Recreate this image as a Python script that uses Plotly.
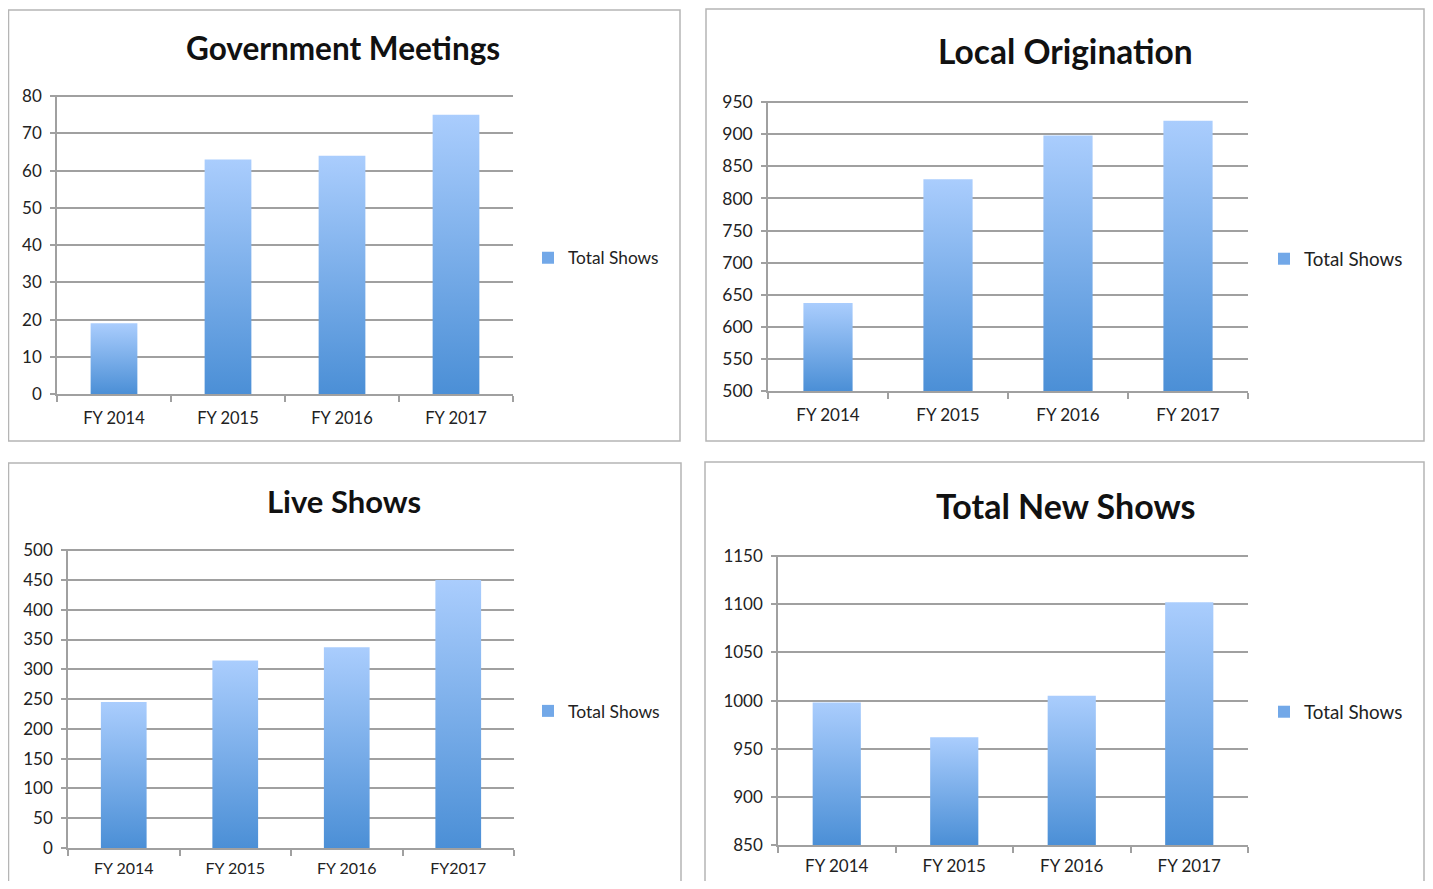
import plotly.graph_objects as go

categories_a = ["FY 2014", "FY 2015", "FY 2016", "FY 2017"]
categories_live = ["FY 2014", "FY 2015", "FY 2016", "FY2017"]

gov_meetings = [19, 63, 64, 75]
local_origination = [637, 830, 898, 921]
live_shows = [245, 315, 337, 450]
total_new_shows = [998, 962, 1005, 1102]

titles = ["Government Meetings", "Local Origination", "Live Shows", "Total New Shows"]
series_name = "Total Shows"

OFF = 8  # page body margin
W, H = 1433 - 2 * OFF, 889 - 2 * OFF
FONT = "Lato"
TOP_C = "#aacdfd"
BOT_C = "#4b8fd6"
GRID = "#a0a0a0"


def fx(px):
    return (px - OFF) / W


def fy(py):
    return 1 - (py - OFF) / H


panels = [
    dict(vals=gov_meetings, cats=categories_a, title=titles[0], yr=(0, 80), dt=10,
         px=(57, 513), py=(95, 394), tc=(343, 48), box=(8.5, 10, 680, 441), leg=(528, 258),
         ts=31.5, xs=16.5, ys=17, ls=17.3, so=8),
    dict(vals=local_origination, cats=categories_a, title=titles[1], yr=(500, 950), dt=50,
         px=(768, 1248), py=(101, 391), tc=(1065, 51), box=(706, 9, 1424, 441), leg=(1264, 259),
         ts=33.5, xs=17, ys=17.5, ls=18.8, so=8),
    dict(vals=live_shows, cats=categories_live, title=titles[2], yr=(0, 500), dt=50,
         px=(68, 514), py=(549, 848), tc=(344, 501), box=(8.5, 463, 681, 910), leg=(528, 711),
         ts=31, xs=16, ys=17, ls=17.5, so=5),
    dict(vals=total_new_shows, cats=categories_a, title=titles[3], yr=(850, 1150), dt=50,
         px=(778, 1248), py=(555, 845), tc=(1065, 505), box=(705, 462, 1424, 910), leg=(1264, 712),
         ts=34, xs=17, ys=17, ls=18.8, so=5),
]

fig = go.Figure()
bw = 0.41
layout = dict(template="none", width=W, height=H, margin=dict(l=0, r=0, t=0, b=0, autoexpand=False),
              paper_bgcolor="white", plot_bgcolor="white", showlegend=True,
              font=dict(family=FONT, color="#222"))
annotations = []
shapes = []

for k, p in enumerate(panels):
    n = k + 1
    xa = "x" if n == 1 else f"x{n}"
    ya = "y" if n == 1 else f"y{n}"
    leg = "legend" if n == 1 else f"legend{n}"
    base = p["yr"][0]
    span = p["yr"][1] - p["yr"][0]
    for i, v in enumerate(p["vals"]):
        fig.add_trace(go.Scatter(
            x=[i - bw / 2, i + bw / 2, i + bw / 2, i - bw / 2, i - bw / 2],
            y=[base, base, v, v, base],
            xaxis=xa, yaxis=ya, mode="lines", line=dict(width=0),
            fill="toself",
            fillgradient=dict(type="vertical", colorscale=[[0, BOT_C], [1, TOP_C]],
                              start=base, stop=v),
            showlegend=False, hoverinfo="skip"))
    fig.add_trace(go.Bar(x=[None], y=[None], name=series_name, xaxis=xa, yaxis=ya,
                         marker=dict(color="#72a8e8", line=dict(width=0)), legend=leg, showlegend=True))

    layout[f"xaxis{'' if n == 1 else n}"] = dict(
        domain=[fx(p["px"][0]), fx(p["px"][1])], anchor=ya, automargin=False,
        range=[-0.5, 3.5], tickmode="array", tickvals=[0, 1, 2, 3], ticktext=p["cats"],
        ticks="", showgrid=False, zeroline=False, showline=True, linecolor=GRID, linewidth=1.5,
        tickfont=dict(size=p["xs"], color="#222", family=FONT), ticklabelstandoff=p["so"],
        minor=dict(tick0=-0.5, dtick=1, ticks="outside", ticklen=6, tickcolor=GRID,
                   tickwidth=1.5, showgrid=False),
        fixedrange=True)
    layout[f"yaxis{'' if n == 1 else n}"] = dict(
        domain=[fy(p["py"][1]), fy(p["py"][0])], anchor=xa, automargin=False,
        range=[p["yr"][0], p["yr"][1] + span * 0.004], dtick=p["dt"], tick0=p["yr"][0],
        tickmode="linear",
        showgrid=True, gridcolor=GRID, gridwidth=1.5, zeroline=False,
        showline=True, linecolor=GRID, linewidth=1.5,
        ticks="outside", ticklen=5, tickcolor=GRID, tickwidth=1.5,
        tickfont=dict(size=p["ys"], color="#222", family=FONT), ticklabelstandoff=5,
        fixedrange=True)
    layout[leg] = dict(x=fx(p["leg"][0]), y=fy(p["leg"][1]), xanchor="left", yanchor="middle",
                       xref="paper", yref="paper", bgcolor="rgba(0,0,0,0)", borderwidth=0,
                       font=dict(size=p["ls"], color="#222", family=FONT),
                       itemwidth=30, tracegroupgap=0)
    annotations.append(dict(text=f"<b>{p['title']}</b>", x=fx(p["tc"][0]), y=fy(p["tc"][1]),
                            xref="paper", yref="paper", xanchor="center", yanchor="middle",
                            showarrow=False, font=dict(size=p["ts"], color="#111", family=FONT)))
    bx = p["box"]
    shapes.append(dict(type="rect", xref="paper", yref="paper",
                       x0=fx(bx[0]), x1=fx(bx[2]), y0=fy(bx[3]), y1=fy(bx[1]),
                       line=dict(color="#b5b5b5", width=1.5), fillcolor="rgba(0,0,0,0)", layer="below"))

layout["annotations"] = annotations
layout["shapes"] = shapes
fig.update_layout(**layout)
fig.write_html("out.html")
